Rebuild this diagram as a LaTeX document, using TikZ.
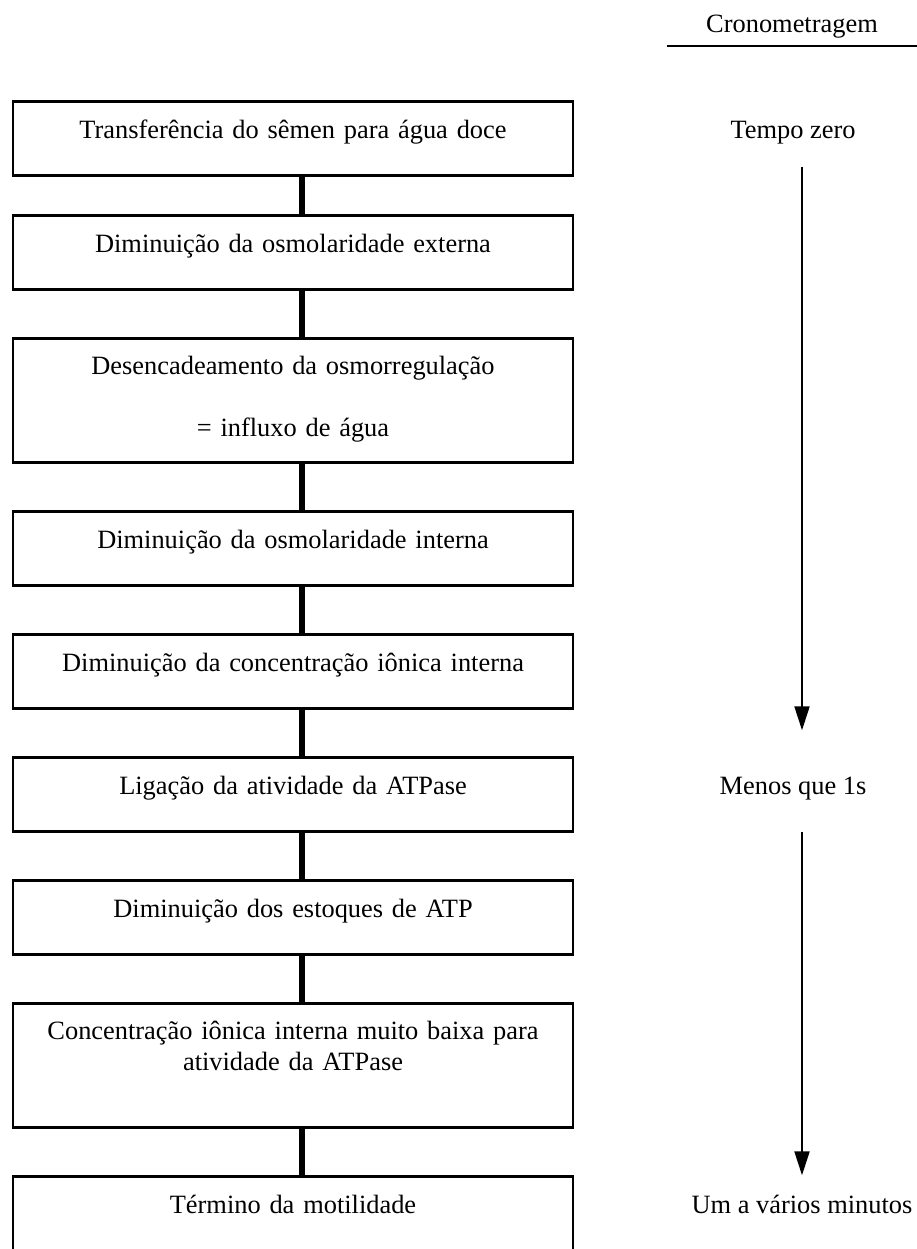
\documentclass[tikz,border=0pt]{standalone}
\usepackage{fontspec}
\setmainfont{Liberation Serif}
\usepackage{tikz}
\usetikzlibrary{arrows.meta,calc,positioning}

\begin{document}
\begin{tikzpicture}[x=1pt,y=1pt,line cap=butt,
  font=\fontsize{26.4}{31}\selectfont,node distance=46.6pt,
  box/.style={draw,line width=2.4pt,text width=560pt,align=center,inner sep=0pt,
    minimum height=74pt,text height=20pt,text depth=20pt},
  tallbox/.style={box,minimum height=124pt,text depth=72pt},
  timelbl/.style={inner sep=0pt,text height=20pt,text depth=20pt},
  link/.style={line width=5.6pt},
  timeline/.style={-{Triangle[length=24pt,width=15pt]},line width=2pt}]
\useasboundingbox (0,0) rectangle (917,-1249);
\node[inner sep=0pt,text width=250pt,align=center,text height=20pt,text depth=13pt] (head) at (792,-29) {Cronometragem};
\draw[line width=2.2pt] (head.south west) -- (head.south east);
\node[box] (b1) at (293,-138.5) {Transferência do sêmen para água doce};
\node[box,below=37.6pt of b1] (b2) {Diminuição da osmolaridade externa};
\node[tallbox,below=of b2] (b3) {Desencadeamento da osmorregulação\\[31pt]= influxo de água};
\node[box,below=of b3] (b4) {Diminuição da osmolaridade interna};
\node[box,below=of b4] (b5) {Diminuição da concentração iônica interna};
\node[box,below=of b5] (b6) {Ligação da atividade da ATPase};
\node[box,below=of b6] (b7) {Diminuição dos estoques de ATP};
\node[tallbox,below=of b7] (b8) {Concentração iônica interna muito baixa para\\atividade da ATPase};
\node[box,below=of b8] (b9) {Término da motilidade};
\foreach \a/\b in {b1/b2,b2/b3,b3/b4,b4/b5,b5/b6,b6/b7,b7/b8,b8/b9}
  \draw[link] ([xshift=9pt]\a.south) -- ([xshift=9pt]\b.north);
\coordinate (col) at (802,0);
\node[timelbl,xshift=-9pt] (t0) at (b1 -| col) {Tempo zero};
\node[timelbl,xshift=-9pt] (t1) at (b6 -| col) {Menos que 1s};
\node[timelbl] (t2) at (b9 -| col) {Um a vários minutos};
\draw[timeline,shorten <=8pt,shorten >=44pt] ([xshift=9pt]t0.south) -- ([xshift=9pt]t1.north);
\draw[timeline,shorten <=17pt,shorten >=18pt] ([xshift=9pt]t1.south) -- (t2.north);
\end{tikzpicture}
\end{document}
